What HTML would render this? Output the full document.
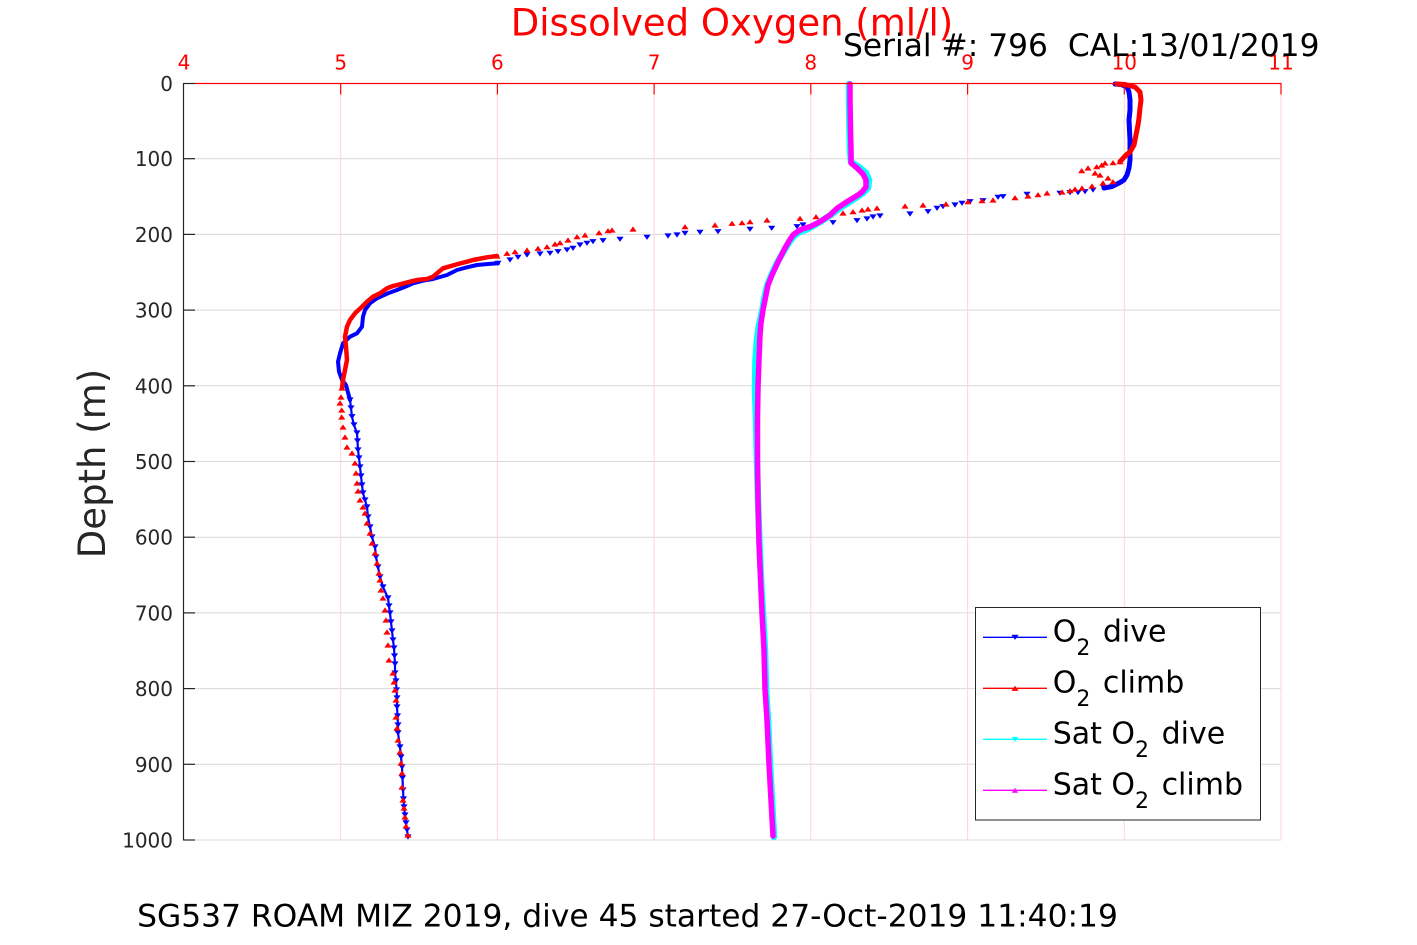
<!DOCTYPE html>
<html><head><meta charset="utf-8"><style>
html,body{margin:0;padding:0;background:#fff;}
svg{display:block;font-family:"DejaVu Sans","Liberation Sans",sans-serif;}
</style></head><body>
<svg width="1417" height="945" viewBox="0 0 1417 945" xmlns="http://www.w3.org/2000/svg">
<defs>
<marker id="mb" markerUnits="userSpaceOnUse" markerWidth="8" markerHeight="8" refX="4" refY="4" overflow="visible"><path d="M0.4,1.4 L7.6,1.4 L4,6.6 Z" fill="#0000ff"/></marker>
<marker id="mr" markerUnits="userSpaceOnUse" markerWidth="8" markerHeight="8" refX="4" refY="4" overflow="visible"><path d="M0.4,6.6 L7.6,6.6 L4,1.4 Z" fill="#ff0000"/></marker>
<marker id="mc" markerUnits="userSpaceOnUse" markerWidth="8" markerHeight="8" refX="4" refY="4" overflow="visible"><path d="M0.8,1.6 L7.2,1.6 L4,6.4 Z" fill="#00ffff"/></marker>
<marker id="mm" markerUnits="userSpaceOnUse" markerWidth="8" markerHeight="8" refX="4" refY="4" overflow="visible"><path d="M0.8,6.4 L7.2,6.4 L4,1.6 Z" fill="#ff00ff"/></marker>
</defs>
<rect x="0" y="0" width="1417" height="945" fill="#fff"/>

<!-- horizontal grid -->
<g stroke="#d9d9d9" stroke-width="1">
<line x1="184" y1="158.7" x2="1281" y2="158.7"/>
<line x1="184" y1="234.4" x2="1281" y2="234.4"/>
<line x1="184" y1="310.1" x2="1281" y2="310.1"/>
<line x1="184" y1="385.8" x2="1281" y2="385.8"/>
<line x1="184" y1="461.5" x2="1281" y2="461.5"/>
<line x1="184" y1="537.2" x2="1281" y2="537.2"/>
<line x1="184" y1="612.9" x2="1281" y2="612.9"/>
<line x1="184" y1="688.6" x2="1281" y2="688.6"/>
<line x1="184" y1="764.3" x2="1281" y2="764.3"/>
<line x1="184" y1="840" x2="1281" y2="840"/>
</g>
<!-- vertical grid -->
<g stroke="#ffd5d5" stroke-width="1">
<line x1="340.7" y1="83" x2="340.7" y2="840"/>
<line x1="497.4" y1="83" x2="497.4" y2="840"/>
<line x1="654.1" y1="83" x2="654.1" y2="840"/>
<line x1="810.8" y1="83" x2="810.8" y2="840"/>
<line x1="967.6" y1="83" x2="967.6" y2="840"/>
<line x1="1124.3" y1="83" x2="1124.3" y2="840"/>
<line x1="1281" y1="83" x2="1281" y2="840"/>
</g>

<!-- O2 dive (blue) -->
<g fill="none" stroke="#0000ff" stroke-linejoin="round" stroke-linecap="round">
<polyline stroke-width="5" points="1115,84 1121,84.5 1127,87 1129,92 1130,100 1130,110 1129,120 1129.5,130 1130,140 1130,150 1130,160 1129,168 1127,175 1124,180 1120,182.5 1112,186.5 1104,188"/>
<polyline stroke-width="4" points="498,263.3 488,264 477,265 467,267.3 457,270 447,275 440,277 433,279 423,280.7 413,283.3 407,286 397,290 388,293.3 377,298.3 370,303.3 365,310 363,316.7 362,326.7 357,333.3 350,336.7 343,343.3 340,353.3 338,361.7 339,371.7 342,380 346,385 350,400"/>
<polyline stroke-width="2.2" marker-start="url(#mb)" marker-mid="url(#mb)" marker-end="url(#mb)" points="350,400 351,408 352,416.7 354,425 357,433 357.5,441 358,450 359,458 360,467 361,476 362,485 363,493 365,500 367,507 368,517 370,527 372,537 375,547 376,557 378,567 380,577 383,587 388,598 389,606 390,613 391,622 392,631 393,640 394,648 394.5,656 395,664 395,673 396,681 396.5,690 397,698 397,707 397.5,716 398,725 398,733 400,747 401,757 402,767 402.5,778 403,790 403.5,799 404,807 405,815 406,823 407,830 408,837"/>
<polyline stroke="none" marker-start="url(#mb)" marker-mid="url(#mb)" marker-end="url(#mb)" points="1104,188 1093,190 1085,191.7 1078,192.7 1070,192.7 1060,193.3 1027,194.3 1003,196.7 998,197.3 983,200.7 970,201.7 962,203.3 955,205 943,206.7 937,208.3 928,211.7 910,214 880,216 873,217 867,219 857,220.7 833,222.7 803,225 797,226.7 771.7,228.3 750,229.3 718,231.7 700,232.3 685,233.3 677,235 668,236 647,237.3 620,239.3 603,240.7 593,241.7 587,243.3 580,245 573,248.3 567,250 558,251.7 550,253.3 540,254 527,255 518,257.3 510,260 498,263.3"/>
</g>

<!-- O2 climb (red) -->
<g fill="none" stroke="#ff0000" stroke-linejoin="round" stroke-linecap="round">
<polyline stroke-width="5" points="1117,84 1125,84.5 1135,87 1140,92 1141,100 1140,108 1139,118 1138,125 1136,135 1134,145 1130,152 1126,155 1120,161.7"/>
<polyline stroke-width="4.5" points="497,256 487,257.3 473,260 467,261.7 458,264 443,268.3 433,276.7 427,279 417,280 410,281.7 400,284.3 393,286 387,288.3 380,293.3 373,296.7 367,301.7 362,306.7 355,313.3 350,320 347,326.7 345,336.7 346,346.7 347,360 345,370 343,380 342,388"/>
<polyline stroke="none" marker-start="url(#mr)" marker-mid="url(#mr)" marker-end="url(#mr)" points="1120,161.7 1113,162.7 1105,163 1101.7,165 1096.7,166.7 1088,168 1081.7,170.7 1095,173 1100,175 1108,178 1113,181.7 1103,183 1092,186 1082,188 1075,189 1070,190.7 1062,192 1047,193 1038,194.7 1028,196 1015,197.7 993,200 982,200.7 968,201.7 946,204 923,205 905,206 877,208 868,209 862,210 853,211.7 843,213 830,215 816,216.7 800,218.3 767,220 750,221.7 742,222.7 732,223.3 715,225 685,226.7 633,229 612,230 608,230.7 599,232.7 585,235 577,236.7 568,240 560,242.7 555,244 547,246.7 538,248.3 527,250 515,251.7 507,253.3 497,256"/>
<polyline stroke="none" marker-start="url(#mr)" marker-mid="url(#mr)" marker-end="url(#mr)" points="342,388 341,397 340,403 341.7,410 341.7,417 343,427 345,437 347,447 352,453 355,463 356,473 357,483 358,491 360,500 363,507 365,513 367,523 370,533 372,543 375,553 377,563 379,573 380,580 381,590 383,598 385,610 386,620 387,632 388,645 389,660 393,673 394,682 395,690 396,700 396,717 397,728 398,740 400,752 401,763 402,773 402,787 403,800 404,808 405,817 406,826 408,835"/>
</g>

<!-- Sat O2 dive (cyan) -->
<polyline fill="none" stroke="#00ffff" stroke-width="6.5" stroke-linejoin="round" stroke-linecap="round" points="849,84 849,100 849.5,130 850,150 851,162 859,167 866,173 869,180 868,188 863,193 857,197 848,203 840,208 832,214 820,222 808,229 800,232 795,235 790,241 785,249 777,263 771,276 767,286 764,300 762,312 759,325 757,340 755.5,360 755,390 756,420 757,463 758,500 759.5,543 761.5,590 763,613 765,650 766,689 768,720 770,764 772,800 774,837"/>
<!-- Sat O2 climb (magenta) -->
<polyline fill="none" stroke="#ff00ff" stroke-width="5.5" stroke-linejoin="round" stroke-linecap="round" points="850,84 850,100 850.5,130 851,150 851,163 857,168 863,174 866,180 866,187 862,192 858,195 847,201.7 837,208.3 830,215 820,221.7 810,226.7 802,229 797,232 793,235 789,241 785,248 778,262 772,275 768,285 765,300 763,310 761,323 760,335 759,360 758,387 757.5,420 757.5,463 758,500 759,543 761,590 762,613 764,650 765,689 767,720 769,764 771,800 773,836"/>

<!-- axes -->
<line x1="183.5" y1="83" x2="183.5" y2="840.5" stroke="#262626" stroke-width="1.2"/>
<g stroke="#262626" stroke-width="1.2">
<line x1="184" y1="83.5" x2="195" y2="83.5"/>
<line x1="184" y1="158.7" x2="195" y2="158.7"/>
<line x1="184" y1="234.4" x2="195" y2="234.4"/>
<line x1="184" y1="310.1" x2="195" y2="310.1"/>
<line x1="184" y1="385.8" x2="195" y2="385.8"/>
<line x1="184" y1="461.5" x2="195" y2="461.5"/>
<line x1="184" y1="537.2" x2="195" y2="537.2"/>
<line x1="184" y1="612.9" x2="195" y2="612.9"/>
<line x1="184" y1="688.6" x2="195" y2="688.6"/>
<line x1="184" y1="764.3" x2="195" y2="764.3"/>
<line x1="184" y1="840" x2="195" y2="840"/>
</g>
<line x1="195" y1="83.5" x2="1281.5" y2="83.5" stroke="#ff0000" stroke-width="1.2"/>
<g stroke="#ff0000" stroke-width="1.2">
<line x1="340.7" y1="83" x2="340.7" y2="94.5"/>
<line x1="497.4" y1="83" x2="497.4" y2="94.5"/>
<line x1="654.1" y1="83" x2="654.1" y2="94.5"/>
<line x1="810.8" y1="83" x2="810.8" y2="94.5"/>
<line x1="967.6" y1="83" x2="967.6" y2="94.5"/>
<line x1="1124.3" y1="83" x2="1124.3" y2="94.5"/>
<line x1="1281" y1="83" x2="1281" y2="94.5"/>
</g>

<!-- y tick labels -->
<g font-size="20" fill="#262626" text-anchor="end">
<text x="173" y="91">0</text>
<text x="173" y="166.2">100</text>
<text x="173" y="241.9">200</text>
<text x="173" y="317.6">300</text>
<text x="173" y="393.3">400</text>
<text x="173" y="469">500</text>
<text x="173" y="544.7">600</text>
<text x="173" y="620.4">700</text>
<text x="173" y="696.1">800</text>
<text x="173" y="771.8">900</text>
<text x="173" y="847.5">1000</text>
</g>
<!-- x tick labels -->
<g font-size="20" fill="#ff0000" text-anchor="middle">
<text x="184" y="69.5">4</text>
<text x="340.7" y="69.5">5</text>
<text x="497.4" y="69.5">6</text>
<text x="654.1" y="69.5">7</text>
<text x="810.8" y="69.5">8</text>
<text x="967.6" y="69.5">9</text>
<text x="1124.3" y="69.5">10</text>
<text x="1281" y="69.5">11</text>
</g>

<!-- titles -->
<text x="732" y="35.5" font-size="37" fill="#ff0000" text-anchor="middle">Dissolved Oxygen (ml/l)</text>
<text x="1319.5" y="56" font-size="31.3" fill="#000" text-anchor="end" xml:space="preserve">Serial #: 796  CAL:13/01/2019</text>
<text transform="translate(105,463.5) rotate(-90)" font-size="37" fill="#262626" text-anchor="middle">Depth (m)</text>
<text x="627.5" y="926.5" font-size="31.3" fill="#000" text-anchor="middle">SG537 ROAM MIZ 2019, dive 45 started 27-Oct-2019 11:40:19</text>

<!-- legend -->
<rect x="975.5" y="607.5" width="285" height="212.5" fill="#fff" stroke="#262626" stroke-width="1"/>
<polyline points="983,637.3 1015,637.3 1047,637.3" fill="none" stroke="#0000ff" stroke-width="1.3" marker-mid="url(#mb)"/>
<polyline points="983,688.3 1015,688.3 1047,688.3" fill="none" stroke="#ff0000" stroke-width="1.3" marker-mid="url(#mr)"/>
<polyline points="983,739.3 1015,739.3 1047,739.3" fill="none" stroke="#00ffff" stroke-width="1.3" marker-mid="url(#mc)"/>
<polyline points="983,790.3 1015,790.3 1047,790.3" fill="none" stroke="#ff00ff" stroke-width="1.3" marker-mid="url(#mm)"/>
<g font-size="30" fill="#000">
<text x="1052.7" y="641.5">O<tspan font-size="22" dy="13.5">2</tspan><tspan dy="-13.5" dx="3"> dive</tspan></text>
<text x="1052.7" y="692.5">O<tspan font-size="22" dy="13.5">2</tspan><tspan dy="-13.5" dx="3"> climb</tspan></text>
<text x="1052.7" y="743.5">Sat O<tspan font-size="22" dy="13.5">2</tspan><tspan dy="-13.5" dx="3"> dive</tspan></text>
<text x="1052.7" y="794.5">Sat O<tspan font-size="22" dy="13.5">2</tspan><tspan dy="-13.5" dx="3"> climb</tspan></text>
</g>
</svg>
</body></html>
